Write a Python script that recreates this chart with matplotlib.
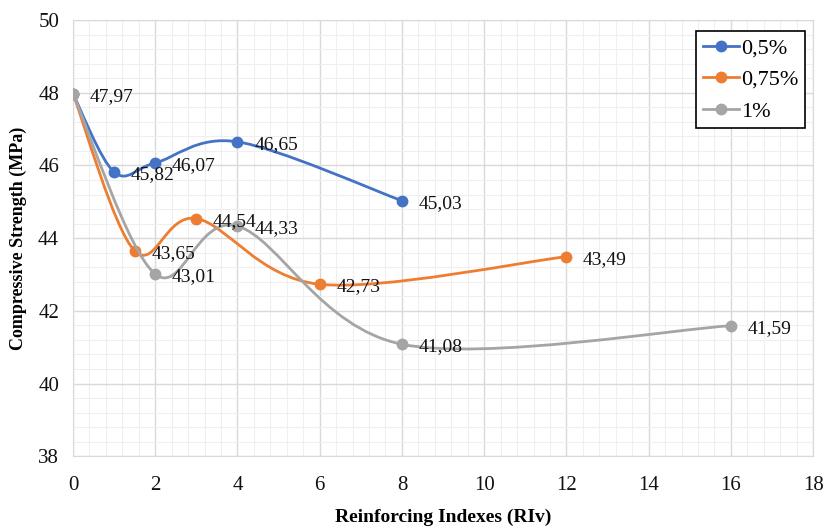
# Compressive strength vs reinforcing index, smoothed lines like the Excel chart.

import matplotlib
matplotlib.use("Agg")

import matplotlib.pyplot as plt
import numpy as np
from matplotlib.path import Path
from matplotlib.patches import PathPatch
from matplotlib.ticker import MultipleLocator

# data
seriesNames = ["0,5%", "0,75%", "1%"]
xHalf = [0, 1, 2, 4, 8]
yHalf = [47.97, 45.82, 46.07, 46.65, 45.03]
xThreeQuarter = [0, 1.5, 3, 6, 12]
yThreeQuarter = [47.97, 43.65, 44.54, 42.73, 43.49]
xOne = [0, 2, 4, 8, 16]
yOne = [47.97, 43.01, 44.33, 41.08, 41.59]

colors = ["#4472C4", "#ED7D31", "#A5A5A5"]
serif = ["Liberation Serif", "DejaVu Serif"]


def smoothPath(xs, ys):
    # Catmull-Rom style bezier through the points (Excel "smoothed line")
    pts = np.column_stack([xs, ys]).astype(float)
    n = len(pts)
    verts = [pts[0]]
    codes = [Path.MOVETO]
    for i in range(n - 1):
        p0 = pts[i - 1] if i > 0 else pts[i]
        p1 = pts[i]
        p2 = pts[i + 1]
        p3 = pts[i + 2] if i + 2 < n else pts[i + 1]
        c1 = p1 + (p2 - p0) / 6.0
        c2 = p2 - (p3 - p1) / 6.0
        verts += [c1, c2, p2]
        codes += [Path.CURVE4] * 3
    return Path(verts, codes)


fig = plt.figure(figsize=(8.23, 5.28), dpi=100)
ax = fig.add_axes([0.0887, 0.136, 0.8993, 0.826])

allSeries = [(xHalf, yHalf), (xThreeQuarter, yThreeQuarter), (xOne, yOne)]
for k, (xs, ys) in enumerate(allSeries):
    patch = PathPatch(smoothPath(xs, ys), facecolor="none", edgecolor=colors[k],
                      linewidth=2.0, zorder=3 + k, capstyle="round")
    ax.add_patch(patch)
    ax.plot(xs, ys, linestyle="none", marker="o", markersize=7.5, color=colors[k],
            zorder=3.5 + k)
    # legend handle
    ax.plot([], [], color=colors[k], linewidth=2.0, marker="o", markersize=7.5,
            label=seriesNames[k])
    for xv, yv in zip(xs, ys):
        if k > 0 and xv == 0:
            continue
        ax.annotate(("%.2f" % yv).replace(".", ","), (xv, yv), xytext=(12, -2),
                    textcoords="offset points", ha="left", va="center",
                    fontsize=14, family=serif, color="#111111", zorder=10)

ax.set_xlim(0, 18)
ax.set_ylim(38, 50)
ax.xaxis.set_major_locator(MultipleLocator(2))
ax.xaxis.set_minor_locator(MultipleLocator(0.4))
ax.yaxis.set_major_locator(MultipleLocator(2))
ax.yaxis.set_minor_locator(MultipleLocator(0.4))
ax.grid(which="major", color="#d9d9d9", linewidth=1.0, zorder=0)
ax.grid(which="minor", color="#efefef", linewidth=0.8, zorder=0)
ax.set_axisbelow(True)
ax.tick_params(which="both", length=0)
ax.tick_params(axis="x", pad=14)
ax.tick_params(axis="y", pad=10)
for side in ax.spines.values():
    side.set_color("#d9d9d9")

for lbl in ax.get_xticklabels() + ax.get_yticklabels():
    lbl.set_family(serif)
    lbl.set_fontsize(15)
    lbl.set_color("#111111")

ax.set_xlabel("Reinforcing Indexes (RIv)", family=serif, fontsize=14,
              fontweight="bold", labelpad=10)
ax.set_ylabel("Compressive Strength (MPa)", family=serif, fontsize=13,
              fontweight="bold", labelpad=8)

leg = ax.legend(loc="upper right", bbox_to_anchor=(0.998, 0.99),
                prop={"family": serif, "size": 16}, fancybox=False,
                framealpha=1, edgecolor="black", handlelength=1.6,
                handletextpad=0.1, borderpad=0.3, labelspacing=0.5,
                borderaxespad=0.3)
leg.get_frame().set_linewidth(1.2)

fig.savefig("out.png", dpi=100)
